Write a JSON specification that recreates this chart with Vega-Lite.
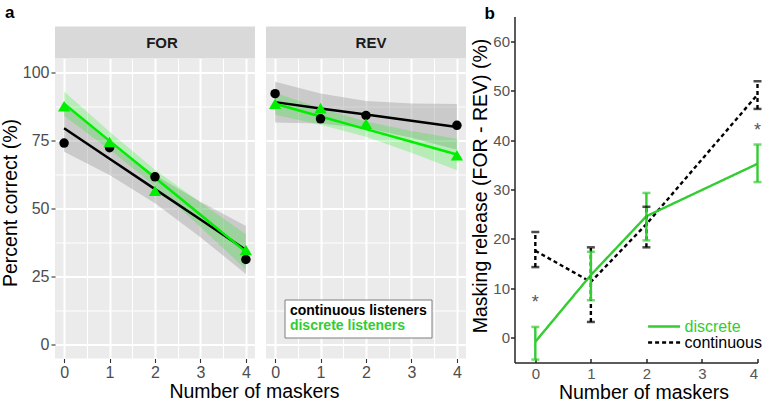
{
  "$schema": "https://vega.github.io/schema/vega-lite/v6.json",
  "background": "#ffffff",
  "padding": {"left": 0, "top": 3.5, "right": 0, "bottom": 0},
  "config": {
    "font": "Liberation Sans",
    "view": {"stroke": null},
    "title": {"font": "Liberation Sans", "fontSize": 17, "fontWeight": "bold", "color": "#000000", "anchor": "start", "frame": "group"},
    "axis": {"labelFont": "Liberation Sans", "titleFont": "Liberation Sans", "titleFontWeight": "normal", "titleColor": "#000000"},
    "legend": {"labelFont": "Liberation Sans"}
  },
  "datasets": {
    "panels": [{"cond": "FOR"}, {"cond": "REV"}],
    "pts": [
      {"cond": "FOR", "group": "continuous", "n": 0, "pc": 74.0},
      {"cond": "FOR", "group": "continuous", "n": 1, "pc": 72.3},
      {"cond": "FOR", "group": "continuous", "n": 2, "pc": 61.6},
      {"cond": "FOR", "group": "continuous", "n": 4, "pc": 31.3},
      {"cond": "FOR", "group": "discrete", "n": 0, "pc": 87.5},
      {"cond": "FOR", "group": "discrete", "n": 1, "pc": 74.4},
      {"cond": "FOR", "group": "discrete", "n": 2, "pc": 56.5},
      {"cond": "FOR", "group": "discrete", "n": 4, "pc": 34.8},
      {"cond": "REV", "group": "continuous", "n": 0, "pc": 92.1},
      {"cond": "REV", "group": "continuous", "n": 1, "pc": 82.9},
      {"cond": "REV", "group": "continuous", "n": 2, "pc": 84.1},
      {"cond": "REV", "group": "continuous", "n": 4, "pc": 80.5},
      {"cond": "REV", "group": "discrete", "n": 0, "pc": 88.4},
      {"cond": "REV", "group": "discrete", "n": 1, "pc": 86.8},
      {"cond": "REV", "group": "discrete", "n": 2, "pc": 81.1},
      {"cond": "REV", "group": "discrete", "n": 4, "pc": 69.5}
    ],
    "fits": [
      {"cond": "FOR", "group": "continuous", "n": 0, "fit": 79.4, "lo": 70.8, "hi": 88.0},
      {"cond": "FOR", "group": "continuous", "n": 1, "fit": 68.25, "lo": 62.25, "hi": 74.25},
      {"cond": "FOR", "group": "continuous", "n": 2, "fit": 57.1, "lo": 51.9, "hi": 62.3},
      {"cond": "FOR", "group": "continuous", "n": 3, "fit": 45.95, "lo": 39.45, "hi": 52.45},
      {"cond": "FOR", "group": "continuous", "n": 4, "fit": 34.8, "lo": 26.0, "hi": 43.6},
      {"cond": "FOR", "group": "discrete", "n": 0, "fit": 88.4, "lo": 83.9, "hi": 92.9},
      {"cond": "FOR", "group": "discrete", "n": 1, "fit": 74.8, "lo": 71.5, "hi": 78.1},
      {"cond": "FOR", "group": "discrete", "n": 2, "fit": 61.25, "lo": 58.25, "hi": 64.25},
      {"cond": "FOR", "group": "discrete", "n": 3, "fit": 47.7, "lo": 43.2, "hi": 52.2},
      {"cond": "FOR", "group": "discrete", "n": 4, "fit": 34.1, "lo": 27.6, "hi": 40.6},
      {"cond": "REV", "group": "continuous", "n": 0, "fit": 89.0, "lo": 81.5, "hi": 96.5},
      {"cond": "REV", "group": "continuous", "n": 1, "fit": 86.7, "lo": 81.2, "hi": 92.2},
      {"cond": "REV", "group": "continuous", "n": 2, "fit": 84.45, "lo": 79.45, "hi": 89.45},
      {"cond": "REV", "group": "continuous", "n": 3, "fit": 82.2, "lo": 75.9, "hi": 88.5},
      {"cond": "REV", "group": "continuous", "n": 4, "fit": 79.9, "lo": 71.5, "hi": 88.3},
      {"cond": "REV", "group": "discrete", "n": 0, "fit": 88.4, "lo": 84.4, "hi": 92.4},
      {"cond": "REV", "group": "discrete", "n": 1, "fit": 83.75, "lo": 80.75, "hi": 86.75},
      {"cond": "REV", "group": "discrete", "n": 2, "fit": 79.1, "lo": 76.3, "hi": 81.9},
      {"cond": "REV", "group": "discrete", "n": 3, "fit": 74.45, "lo": 70.45, "hi": 78.45},
      {"cond": "REV", "group": "discrete", "n": 4, "fit": 69.8, "lo": 64.0, "hi": 75.6}
    ],
    "release": [
      {"group": "continuous", "n": 0, "mr": 17.6, "lo": 14.3, "hi": 21.4},
      {"group": "continuous", "n": 1, "mr": 11.3, "lo": 3.2, "hi": 18.3},
      {"group": "continuous", "n": 2, "mr": 23.0, "lo": 18.3, "hi": 26.5},
      {"group": "continuous", "n": 4, "mr": 49.2, "lo": 46.3, "hi": 51.9},
      {"group": "discrete", "n": 0, "mr": -0.8, "lo": -4.4, "hi": 2.2},
      {"group": "discrete", "n": 1, "mr": 12.7, "lo": 7.6, "hi": 17.4},
      {"group": "discrete", "n": 2, "mr": 24.6, "lo": 19.7, "hi": 29.3},
      {"group": "discrete", "n": 4, "mr": 35.2, "lo": 31.5, "hi": 39.1}
    ],
    "stars": [
      {"n": 0, "y": 8.0, "mark": "*"},
      {"n": 4, "y": 42.8, "mark": "*"}
    ]
  },
  "hconcat": [
    {
      "columns": 2,
      "bounds": "flush",
      "spacing": {"row": 0, "column": 11},
      "concat": [
        {"width": 200, "height": 10, "data": {"values": [{"t": ""}]}, "mark": {"type": "text"}, "encoding": {"text": {"field": "t"}}, "title": {"text": "a", "dx": -50, "offset": -6}},
        {"width": 200, "height": 10, "data": {"values": [{"t": ""}]}, "mark": {"type": "text"}, "encoding": {"text": {"field": "t"}}},
        {"width": 200, "height": 32, "view": {"fill": "#d9d9d9", "stroke": null}, "data": {"name": "panels"}, "transform": [{"filter": "datum.cond === 'FOR'"}], "mark": {"type": "text", "fontWeight": "bold", "fontSize": 15, "color": "#1a1a1a", "dx": 7}, "encoding": {"text": {"field": "cond"}}},
        {"width": 200, "height": 32, "view": {"fill": "#d9d9d9", "stroke": null}, "data": {"name": "panels"}, "transform": [{"filter": "datum.cond === 'REV'"}], "mark": {"type": "text", "fontWeight": "bold", "fontSize": 15, "color": "#1a1a1a", "dx": 5}, "encoding": {"text": {"field": "cond"}}},
        {
          "width": 200, "height": 300,
          "view": {"fill": "#ebebeb", "stroke": null},
          "resolve": {"axis": {"x": "independent", "y": "independent"}},
          "layer": [
            {
              "data": {"name": "fits"}, "transform": [{"filter": "datum.cond === 'FOR'"}],
              "mark": {"type": "area"},
              "encoding": {
                "x": {"field": "n", "type": "quantitative", "scale": {"domain": [-0.2, 4.2], "nice": false, "zero": false}, "axis": {"orient": "bottom", "values": [0.5, 1.5, 2.5, 3.5], "grid": true, "gridColor": "#ffffff", "gridWidth": 1, "domain": false, "ticks": false, "labels": false, "title": null}},
                "y": {"field": "hi", "type": "quantitative", "scale": {"domain": [-5, 105], "nice": false, "zero": false}, "axis": {"orient": "left", "values": [12.5, 37.5, 62.5, 87.5], "grid": true, "gridColor": "#ffffff", "gridWidth": 1, "domain": false, "ticks": false, "labels": false, "title": null}},
                "y2": {"field": "lo"},
                "fill": {"field": "group", "type": "nominal", "scale": {"domain": ["discrete", "continuous"], "range": ["rgba(0,238,0,0.22)", "rgba(153,153,153,0.4)"]}, "legend": null}
              }
            },
            {
              "data": {"name": "fits"}, "transform": [{"filter": "datum.cond === 'FOR'"}],
              "mark": {"type": "line", "strokeWidth": 2.5},
              "encoding": {
                "x": {"field": "n", "type": "quantitative", "scale": {"domain": [-0.2, 4.2], "nice": false, "zero": false}, "axis": {"orient": "bottom", "values": [0, 1, 2, 3, 4], "format": "d", "grid": true, "gridColor": "#ffffff", "gridWidth": 2, "domain": false, "tickColor": "#333333", "tickSize": 4, "tickWidth": 1.1, "labelFontSize": 16, "labelColor": "#4d4d4d", "labelPadding": 2, "title": "Number of maskers", "titleFontSize": 19.5, "titlePadding": 2, "titleX": 199}},
                "y": {"field": "fit", "type": "quantitative", "scale": {"domain": [-5, 105], "nice": false, "zero": false}, "axis": {"orient": "left", "values": [0, 25, 50, 75, 100], "grid": true, "gridColor": "#ffffff", "gridWidth": 2, "domain": false, "tickColor": "#333333", "tickSize": 4, "tickWidth": 1.1, "labelFontSize": 16, "labelColor": "#4d4d4d", "labelPadding": 2, "title": "Percent correct (%)", "titleFontSize": 19.5, "titlePadding": 2, "titleY": 144}},
                "color": {"field": "group", "type": "nominal", "scale": {"domain": ["continuous", "discrete"], "range": ["#000000", "#00ee00"]},
                  "legend": {"title": null, "orient": "none", "legendX": 229.5, "legendY": 283, "labelExpr": "datum.label + ' listeners'", "labelFontWeight": "bold", "labelFontSize": 14, "labelColor": "#000000", "symbolOpacity": 0, "symbolSize": 1, "labelOffset": -12.6, "padding": 4, "rowPadding": 1.5, "strokeColor": "#7f7f7f", "fillColor": "#ffffff",
                    "encode": {"labels": {"update": {"fill": {"signal": "datum.value === 'discrete' ? '#33cc33' : '#000000'"}}}}}}
              }
            },
            {
              "data": {"name": "pts"}, "transform": [{"filter": "datum.cond === 'FOR'"}],
              "mark": {"type": "point", "filled": true, "opacity": 1},
              "encoding": {
                "x": {"field": "n", "type": "quantitative", "scale": {"domain": [-0.2, 4.2], "nice": false, "zero": false}, "axis": null},
                "y": {"field": "pc", "type": "quantitative", "scale": {"domain": [-5, 105], "nice": false, "zero": false}, "axis": null},
                "color": {"field": "group", "type": "nominal", "scale": {"domain": ["continuous", "discrete"], "range": ["#000000", "#00ee00"]}},
                "shape": {"field": "group", "type": "nominal", "scale": {"domain": ["discrete", "continuous"], "range": ["triangle-up", "circle"]}, "legend": null},
                "size": {"field": "group", "type": "nominal", "scale": {"domain": ["discrete", "continuous"], "range": [150, 90]}, "legend": null}
              }
            }
          ]
        },
        {
          "width": 200, "height": 300,
          "view": {"fill": "#ebebeb", "stroke": null},
          "resolve": {"axis": {"x": "independent", "y": "independent"}},
          "layer": [
            {
              "data": {"name": "fits"}, "transform": [{"filter": "datum.cond === 'REV'"}],
              "mark": {"type": "area"},
              "encoding": {
                "x": {"field": "n", "type": "quantitative", "scale": {"domain": [-0.2, 4.2], "nice": false, "zero": false}, "axis": {"orient": "bottom", "values": [0.5, 1.5, 2.5, 3.5], "grid": true, "gridColor": "#ffffff", "gridWidth": 1, "domain": false, "ticks": false, "labels": false, "title": null}},
                "y": {"field": "hi", "type": "quantitative", "scale": {"domain": [-5, 105], "nice": false, "zero": false}, "axis": {"orient": "left", "values": [12.5, 37.5, 62.5, 87.5], "grid": true, "gridColor": "#ffffff", "gridWidth": 1, "domain": false, "ticks": false, "labels": false, "title": null}},
                "y2": {"field": "lo"},
                "fill": {"field": "group", "type": "nominal", "scale": {"domain": ["discrete", "continuous"], "range": ["rgba(0,238,0,0.22)", "rgba(153,153,153,0.4)"]}, "legend": null}
              }
            },
            {
              "data": {"name": "fits"}, "transform": [{"filter": "datum.cond === 'REV'"}],
              "mark": {"type": "line", "strokeWidth": 2.5},
              "encoding": {
                "x": {"field": "n", "type": "quantitative", "scale": {"domain": [-0.2, 4.2], "nice": false, "zero": false}, "axis": {"orient": "bottom", "values": [0, 1, 2, 3, 4], "format": "d", "grid": true, "gridColor": "#ffffff", "gridWidth": 2, "domain": false, "tickColor": "#333333", "tickSize": 4, "tickWidth": 1.1, "labelFontSize": 16, "labelColor": "#4d4d4d", "labelPadding": 2, "title": null}},
                "y": {"field": "fit", "type": "quantitative", "scale": {"domain": [-5, 105], "nice": false, "zero": false}, "axis": {"orient": "left", "values": [0, 25, 50, 75, 100], "grid": true, "gridColor": "#ffffff", "gridWidth": 2, "domain": false, "ticks": false, "labels": false, "title": null}},
                "color": {"field": "group", "type": "nominal", "scale": {"domain": ["continuous", "discrete"], "range": ["#000000", "#00ee00"]},
                  "legend": {"title": null, "orient": "none", "legendX": 229.5, "legendY": 283, "labelExpr": "datum.label + ' listeners'", "labelFontWeight": "bold", "labelFontSize": 14, "labelColor": "#000000", "symbolOpacity": 0, "symbolSize": 1, "labelOffset": -12.6, "padding": 4, "rowPadding": 1.5, "strokeColor": "#7f7f7f", "fillColor": "#ffffff",
                    "encode": {"labels": {"update": {"fill": {"signal": "datum.value === 'discrete' ? '#33cc33' : '#000000'"}}}}}}
              }
            },
            {
              "data": {"name": "pts"}, "transform": [{"filter": "datum.cond === 'REV'"}],
              "mark": {"type": "point", "filled": true, "opacity": 1},
              "encoding": {
                "x": {"field": "n", "type": "quantitative", "scale": {"domain": [-0.2, 4.2], "nice": false, "zero": false}, "axis": null},
                "y": {"field": "pc", "type": "quantitative", "scale": {"domain": [-5, 105], "nice": false, "zero": false}, "axis": null},
                "color": {"field": "group", "type": "nominal", "scale": {"domain": ["continuous", "discrete"], "range": ["#000000", "#00ee00"]}},
                "shape": {"field": "group", "type": "nominal", "scale": {"domain": ["discrete", "continuous"], "range": ["triangle-up", "circle"]}, "legend": null},
                "size": {"field": "group", "type": "nominal", "scale": {"domain": ["discrete", "continuous"], "range": [150, 90]}, "legend": null}
              }
            }
          ]
        }
      ]
    },
    {
      "width": 243, "height": 346,
      "title": {"text": "b", "dx": -30, "offset": -6},
      "layer": [
        {
          "data": {"name": "release"},
          "mark": {"type": "line", "strokeWidth": 2.4},
          "encoding": {
            "x": {"field": "n", "type": "quantitative", "scale": {"domain": [-0.375, 4.0], "nice": false, "zero": false}, "axis": {"values": [0, 1, 2, 3, 4], "format": "d", "grid": false, "domainColor": "#262626", "domainWidth": 1.5, "tickColor": "#262626", "tickWidth": 1.5, "tickSize": -4, "labelPadding": 8, "labelFontSize": 15, "labelColor": "#555555", "title": "Number of maskers", "titleFontSize": 19.5, "titlePadding": 2, "titleX": 129}},
            "y": {"field": "mr", "type": "quantitative", "scale": {"domain": [-5, 65], "nice": false, "zero": false}, "axis": {"values": [0, 10, 20, 30, 40, 50, 60], "grid": false, "domainColor": "#262626", "domainWidth": 1.5, "tickColor": "#262626", "tickWidth": 1.5, "tickSize": 4, "labelPadding": 1, "labelFontSize": 15, "labelColor": "#555555", "title": "Masking release (FOR - REV) (%)", "titleFontSize": 19.5, "titlePadding": 2, "titleY": 169}},
            "color": {"field": "group", "type": "nominal", "scale": {"domain": ["discrete", "continuous"], "range": ["#33cc33", "#000000"]},
              "legend": {"title": null, "orient": "none", "legendX": 141.6, "legendY": 302, "symbolType": "M-4,0H4", "symbolSize": 64, "symbolStrokeWidth": 2.5, "labelFontSize": 16, "labelOffset": 12.4, "rowPadding": 0, "padding": 0,
                "encode": {"labels": {"update": {"fill": {"signal": "datum.value === 'discrete' ? '#33cc33' : '#000000'"}}}}}},
            "strokeDash": {"field": "group", "type": "nominal", "scale": {"domain": ["discrete", "continuous"], "range": [[1, 0], [4, 3]]},
              "legend": {"title": null, "orient": "none", "legendX": 141.6, "legendY": 302, "symbolType": "M-4,0H4", "symbolSize": 64, "symbolStrokeWidth": 2.5, "labelFontSize": 16, "labelOffset": 12.4, "rowPadding": 0, "padding": 0,
                "encode": {"labels": {"update": {"fill": {"signal": "datum.value === 'discrete' ? '#33cc33' : '#000000'"}}}}}}
          }
        },
        {
          "data": {"name": "release"},
          "mark": {"type": "rule", "strokeWidth": 2.4},
          "encoding": {
            "x": {"field": "n", "type": "quantitative"},
            "y": {"field": "lo", "type": "quantitative"},
            "y2": {"field": "hi"},
            "color": {"field": "group", "type": "nominal"},
            "strokeDash": {"field": "group", "type": "nominal"}
          }
        },
        {
          "data": {"name": "release"},
          "mark": {"type": "tick", "orient": "horizontal", "size": 8, "thickness": 2.5},
          "encoding": {
            "x": {"field": "n", "type": "quantitative"},
            "y": {"field": "lo", "type": "quantitative"},
            "color": {"field": "group", "type": "nominal"}
          }
        },
        {
          "data": {"name": "release"},
          "mark": {"type": "tick", "orient": "horizontal", "size": 8, "thickness": 2.5},
          "encoding": {
            "x": {"field": "n", "type": "quantitative"},
            "y": {"field": "hi", "type": "quantitative"},
            "color": {"field": "group", "type": "nominal"}
          }
        },
        {
          "data": {"name": "stars"},
          "mark": {"type": "text", "fontSize": 18, "color": "#555555", "dy": 5},
          "encoding": {
            "x": {"field": "n", "type": "quantitative"},
            "y": {"field": "y", "type": "quantitative"},
            "text": {"field": "mark"}
          }
        }
      ]
    }
  ],
  "spacing": 4.5,
  "resolve": {"scale": {"color": "independent", "strokeDash": "independent", "fill": "independent", "shape": "independent", "size": "independent"}}
}
